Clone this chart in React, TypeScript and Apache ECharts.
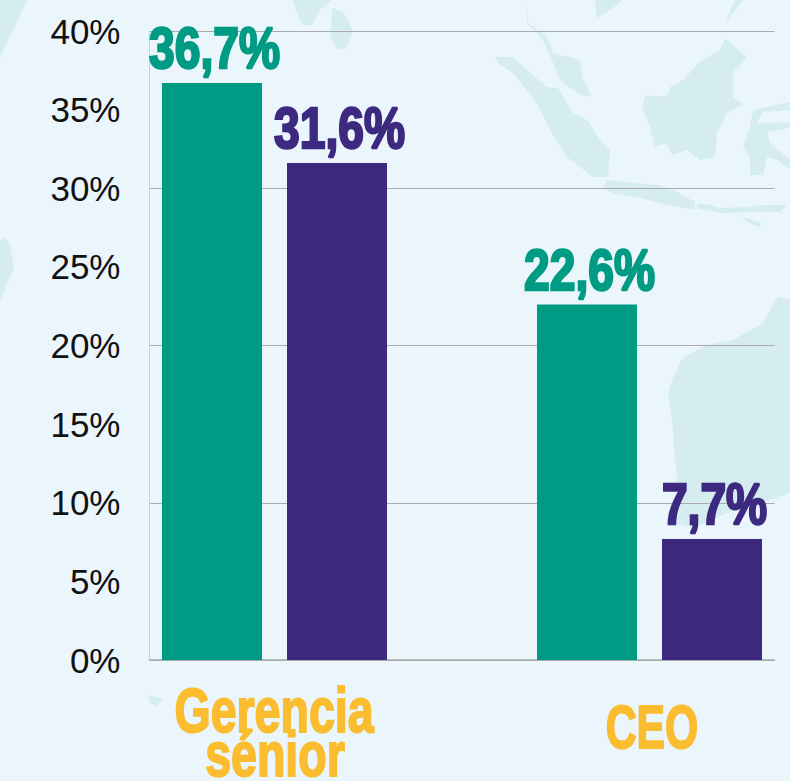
import React, { useEffect, useRef } from "react";
import * as echarts from "echarts";

const slots = ["Gerencia sénior A", "Gerencia sénior B", "", "CEO A", "CEO B"];
const greenValues = [36.7, null, null, 22.6, null];
const purpleValues = [null, 31.6, null, null, 7.7];
const tickFormat = (v: number) => `${v}%`;
const valueLabel = (v: number) => `${String(v).replace(".", ",")}%`;

const LAND = "#D5ECF1";
const land: number[][][] = [
  [[27,0],[13,30],[0,57],[0,0]],
  [[293,0],[332,0],[320,10],[312,25],[303,25],[297,13]],
  [[332,8],[343,12],[353,30],[347,48],[337,50],[331,37]],
  [[495,57],[513,57],[527,70],[547,87],[558,88],[573,113],[587,120],[600,140],[610,150],[608,177],[593,177],[567,157],[550,130],[537,103],[513,73],[498,63]],
  [[528,0],[528,23],[547,37],[553,53],[580,60],[582,77],[592,97],[580,95],[560,80],[552,60],[543,40],[527,23]],
  [[597,18],[613,8],[622,0],[595,0]],
  [[725,23],[743,0],[735,0]],
  [[725,38],[747,58],[733,72],[733,97],[743,105],[727,113],[717,133],[715,157],[700,160],[687,150],[672,155],[667,143],[655,147],[650,127],[642,107],[645,95],[667,97],[670,87],[683,80],[700,62],[720,50]],
  [[607,180],[633,183],[660,185],[677,192],[695,202],[695,210],[667,205],[640,198],[613,193],[603,188]],
  [[697,203],[710,205],[720,208],[747,207],[763,205],[787,205],[780,212],[753,212],[720,213],[697,208]],
  [[743,217],[762,223],[758,227],[747,222]],
  [[753,110],[790,102],[790,110],[763,112],[757,123],[790,122],[790,128],[767,132],[770,143],[790,160],[790,170],[777,160],[767,157],[763,175],[750,175],[750,157],[743,147],[750,127]],
  [[790,300],[778,297],[770,310],[763,323],[733,340],[707,345],[682,358],[672,380],[668,393],[672,420],[675,457],[677,477],[673,523],[693,528],[727,513],[760,503],[790,493]],
  [[5,237],[10,245],[14,268],[7,283],[0,303],[0,242]],
  [[148,695],[163,699],[156,707],[150,703]],
];

export default function App() {
  const ref = useRef<HTMLDivElement>(null);
  useEffect(() => {
    const chart = echarts.init(ref.current!, undefined, { renderer: "svg" });
    const catText = (text: string, x: number, y: number, scaleX: number) => ({
      type: "text", x, y, scaleX, z: 20,
      style: { text, fill: "#FBBC2F", font: "bold 62px 'Liberation Sans'", stroke: "#FBBC2F", lineWidth: 2, align: "center", verticalAlign: "middle", lineHeight: 44 },
    });
    const bars = (name: string, data: (number | null)[], color: string) => ({
      name, type: "bar", data, barWidth: 100, barGap: "-100%",
      itemStyle: { color },
    });
    const labels = (name: string, data: (number | null)[], color: string) => ({
      name, type: "custom", z: 10,
      data: data.map((v, i) => [i, v]).filter((d) => d[1] !== null),
      renderItem: (_: any, api: any) => {
        const value = api.value(1);
        const [x, y] = api.coord([api.value(0), value]);
        return {
          type: "text", x: x + 2.5, y: y - 6, scaleX: 0.81,
          style: {
            text: valueLabel(value), fill: color, stroke: color, lineWidth: 2.5,
            font: "bold 57px 'Liberation Sans'", align: "center", verticalAlign: "bottom",
          },
        };
      },
    });
    chart.setOption({
      animation: false,
      backgroundColor: "#EAF6FC",
      grid: { left: 149.5, top: 31, width: 625, height: 629 },
      xAxis: {
        type: "category", data: slots,
        axisLine: { lineStyle: { color: "#A9A9A9", width: 1.5 } },
        axisTick: { show: false }, axisLabel: { show: false },
      },
      yAxis: [
        {
          type: "value", min: 0, max: 40, interval: 5,
          axisLine: { show: true, lineStyle: { color: "#CFCFCF", width: 1 } },
          axisTick: { show: false },
          axisLabel: { formatter: tickFormat, color: "#111", fontSize: 35, margin: 29, fontFamily: "'Liberation Sans'", padding: [0, 0, 3, 0] },
          splitLine: { show: false },
        },
        {
          type: "value", min: 0, max: 40, interval: 10, position: "left",
          axisLine: { show: false }, axisTick: { show: false }, axisLabel: { show: false },
          splitLine: { show: true, lineStyle: { color: "#ABABAB", width: 1 } },
        },
      ],
      series: [
        bars("Green", greenValues, "#009B84"),
        bars("Purple", purpleValues, "#3D2A80"),
        labels("Green labels", greenValues, "#009B84"),
        labels("Purple labels", purpleValues, "#3D2A80"),
      ],
      graphic: [
        ...land.map((points) => ({ type: "polygon", z: -10, shape: { points }, style: { fill: LAND } })),
        catText("Gerencia", 274, 711, 0.75),
        catText("sénior", 275, 755, 0.75),
        catText("CEO", 652, 726, 0.69),
      ],
    });
    return () => chart.dispose();
  }, []);
  return <div ref={ref} style={{ position: "absolute", left: 0, top: 0, width: 790, height: 781 }} />;
}
